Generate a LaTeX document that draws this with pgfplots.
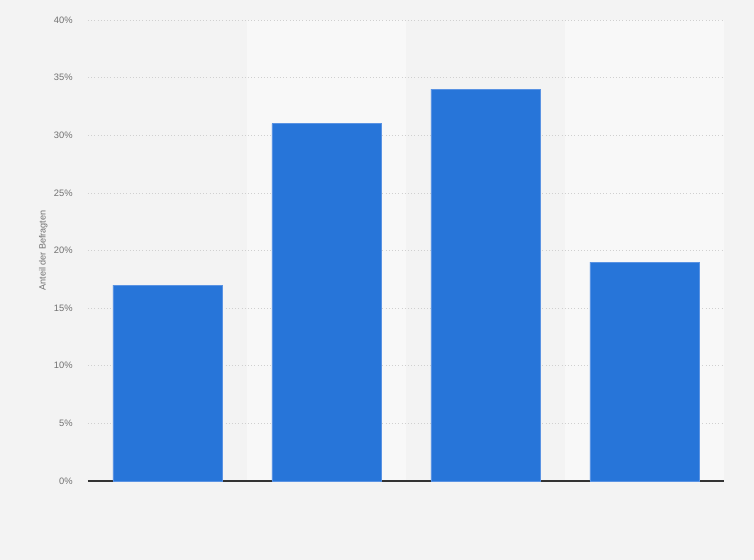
\documentclass[border=0pt]{standalone}
\usepackage{pgfplots}
\pgfplotsset{compat=1.18}
\usepackage{fontspec}
\setmainfont{Liberation Sans}
\definecolor{bg}{HTML}{F3F3F3}
\definecolor{band}{HTML}{F8F8F8}
\definecolor{barblue}{HTML}{2775D9}
\definecolor{baredge}{HTML}{5A93E3}
\definecolor{gridc}{HTML}{D0D0D0}
\definecolor{tickc}{HTML}{707070}
\begin{document}
\begin{tikzpicture}
\begin{axis}[
  set layers,
  at={(0pt,0pt)}, anchor=south west,
  scale only axis,
  width=477pt, height=345.75pt,
  xmin=-0.5, xmax=3.5, ymin=0, ymax=40,
  axis x line*=bottom,
  axis y line*=left,
  y axis line style={draw=none},
  x axis line style={draw=black!80, line width=0.9pt, -},
  xtick=\empty,
  ytick={0,5,...,40},
  yticklabel={\pgfmathprintnumber{\tick}\%},
  /pgf/number format/assume math mode=true,
  yticklabel style={font=\fontsize{7}{8}\selectfont, text=tickc, xshift=-8pt},
  ymajorgrids,
  grid style={draw=gridc, dotted, line width=0.5pt},
  major tick length=0pt,
  ylabel={Anteil der Befragten},
  ylabel style={font=\fontsize{6.8}{8}\selectfont, text=tickc},
  ylabel shift=-2pt,
  ybar, bar width=0.686,
  clip=false,
]
\pgfonlayer{axis background}
\fill[bg] (rel axis cs:0,0) ++(-66pt,-59.25pt) rectangle ++(565.5pt,420pt);
\fill[band] (axis cs:0.5,0) rectangle (axis cs:1.5,40);
\fill[band] (axis cs:2.5,0) rectangle (axis cs:3.5,40);
\endpgfonlayer
\addplot[fill=barblue, draw=baredge, line width=0.6pt] coordinates {(0,17) (1,31) (2,34) (3,19)};
\end{axis}
\end{tikzpicture}
\end{document}
